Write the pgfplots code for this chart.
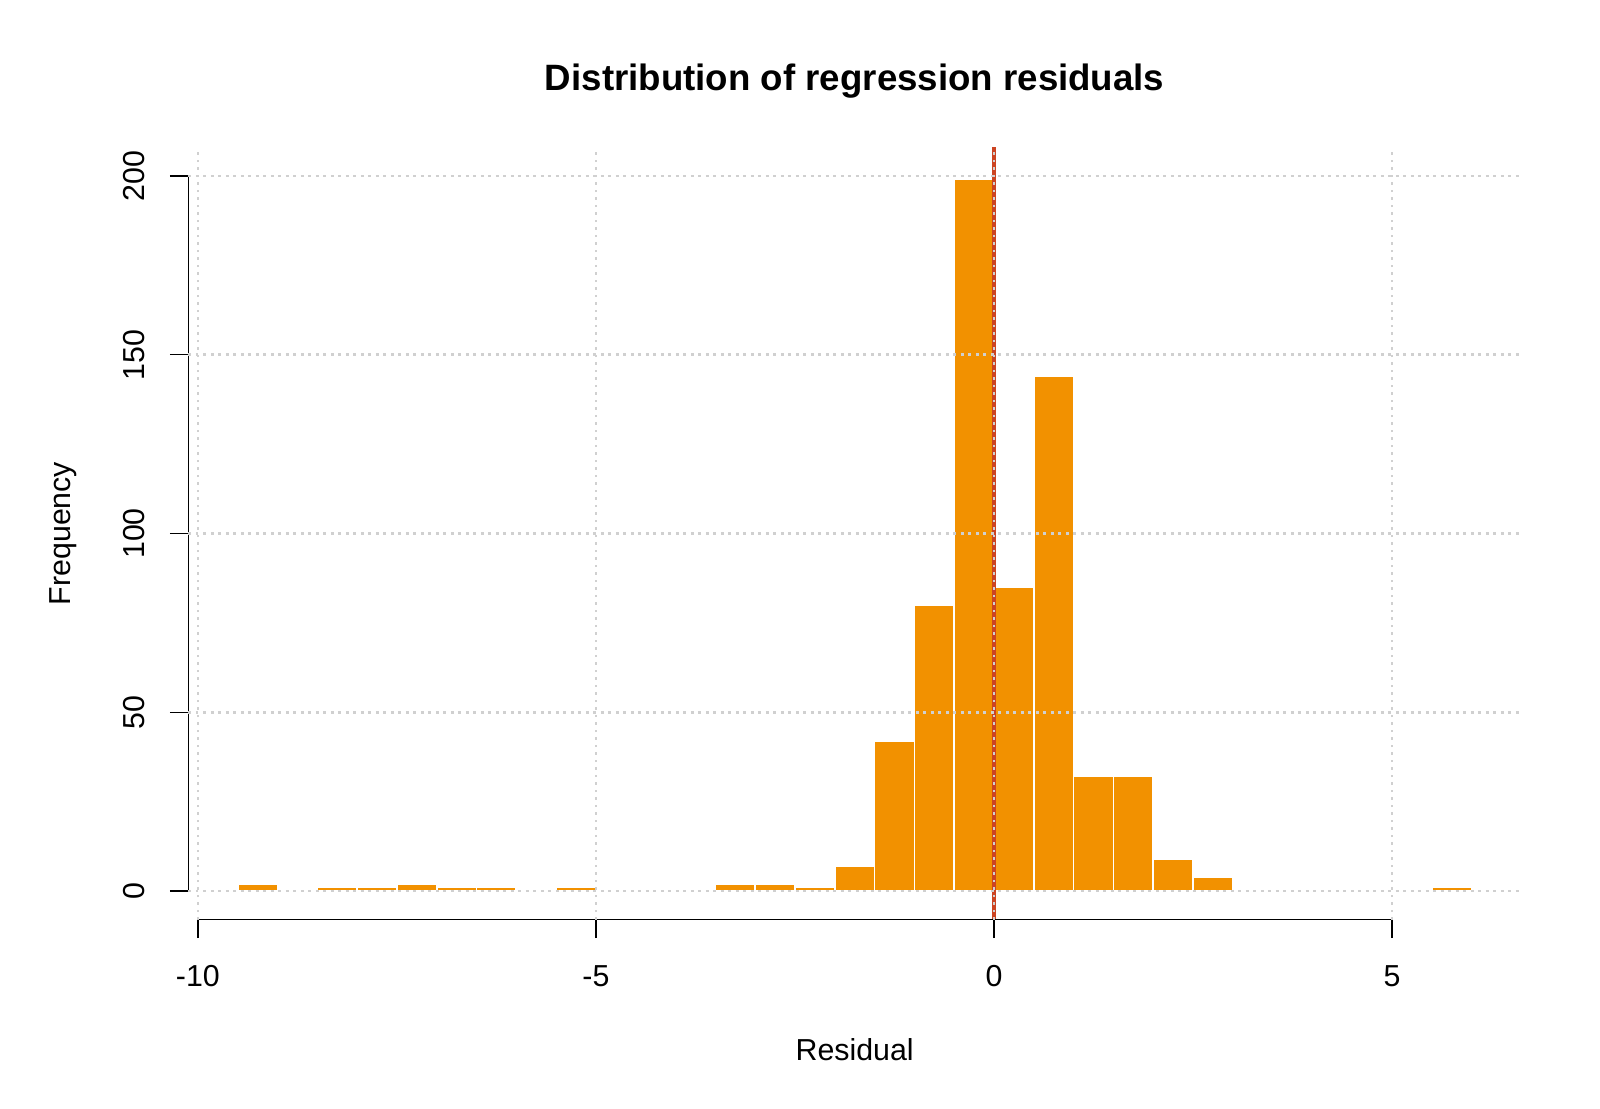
\documentclass[border=0pt]{standalone}
\usepackage{fontspec}
\setmainfont{Liberation Sans}
\usepackage{pgfplots}
\pgfplotsset{compat=1.18}

\definecolor{barorange}{RGB}{242,145,0}
\definecolor{zeroline}{RGB}{204,68,34}
\definecolor{gridgray}{RGB}{208,208,208}

\begin{document}
\begin{tikzpicture}
\begin{axis}[
    name=ax,
    scale only axis,
    width=399.8pt, height=231.7pt,
    xmin=-10.12, xmax=6.62,
    ymin=-8, ymax=208,
    clip=false,
    axis on top,
    axis line style={draw=none},
    xtick={-10,-5,0,5},
    ytick={0,50,100,150,200},
    xtick pos=lower, ytick pos=left,
    tick align=outside,
    major tick length=5.5pt,
    tick style={black, line width=0.45pt},
    grid=major,
    major grid style={gridgray, line width=0.75pt, dash pattern=on 0.8pt off 1.45pt},
    /pgf/number format/assume math mode=true,
    tick label style={font=\fontsize{9.1}{11}\selectfont},
    xticklabel style={anchor=base, yshift=-14.4pt},
    yticklabel style={xshift=-7.6pt, rotate=90, anchor=base},
    every axis x label/.style={at={(axis description cs:0.5,0)}, yshift=-42.1pt, anchor=base},
    every axis y label/.style={at={(axis description cs:0,0.5)}, xshift=-35.2pt, rotate=90, anchor=base},
    every axis title/.style={at={(axis description cs:0.5,1)}, yshift=17pt, anchor=base},
    label style={font=\fontsize{9.1}{11}\selectfont},
    title style={font=\fontsize{11}{13}\selectfont\bfseries},
    title={Distribution of regression residuals},
    xlabel={Residual},
    ylabel={Frequency},
]

% histogram, bins of width 0.5 (last point only closes the interval)
\addplot[ybar interval, fill=barorange, draw=white, line width=0.5pt] coordinates {
    (-9.5,2) (-9,0) (-8.5,1) (-8,1) (-7.5,2) (-7,1) (-6.5,1) (-6,0)
    (-5.5,1) (-5,0) (-4.5,0) (-4,0) (-3.5,2) (-3,2) (-2.5,1) (-2,7)
    (-1.5,42) (-1,80) (-0.5,199) (0,85) (0.5,144) (1,32) (1.5,32)
    (2,9) (2.5,4) (3,0) (3.5,0) (4,0) (4.5,0) (5,0) (5.5,1) (6,0)
};

% zero reference line
\addplot[zeroline, line width=1.3pt] coordinates {(0,-8) (0,208)};

% R-style axis lines, only over the tick range
\draw[black, line width=0.45pt] (axis cs:-10,-8) -- (axis cs:5,-8);
\draw[black, line width=0.45pt] (axis cs:-10.12,0) -- (axis cs:-10.12,200);
\end{axis}
\pgfresetboundingbox
\path ([shift={(-56.5pt,-56.5pt)}]ax.south west) rectangle ([shift={(23.7pt,44.2pt)}]ax.north east);
\end{tikzpicture}
\end{document}
